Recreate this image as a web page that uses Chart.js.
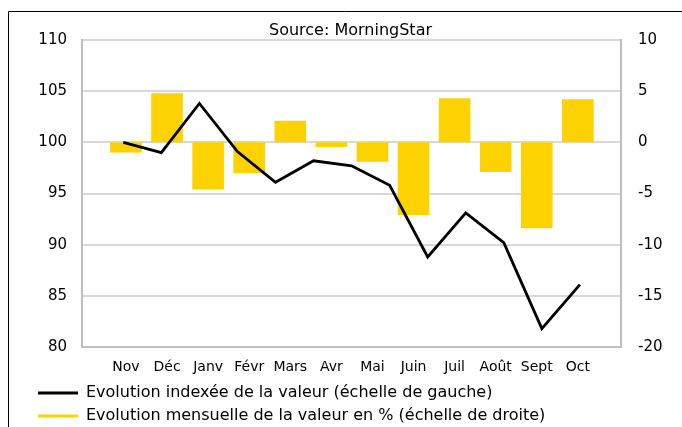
<!DOCTYPE html>
<html>
<head>
<meta charset="utf-8">
<script src="https://cdn.jsdelivr.net/npm/chart.js@4.4.0/dist/chart.umd.min.js"></script>
<style>
    html, body { margin: 0; padding: 0; background: #fff; }
</style>
</head>
<body>
<canvas id="chart-combo" width="682" height="427"></canvas>
<script>
    const months = ['Nov', 'Déc', 'Janv', 'Févr', 'Mars', 'Avr', 'Mai', 'Juin', 'Juil', 'Août', 'Sept', 'Oct'];
    // monthly change in % (right scale)
    const monthlyChange = [-1.0, 4.8, -4.6, -3.0, 2.1, -0.45, -1.9, -7.1, 4.3, -2.9, -8.4, 4.2];
    // indexed level, 13 points (start + end of each month)
    const indexLevel = [100.0, 99.0, 103.8, 99.1, 96.1, 98.2, 97.7, 95.8, 88.8, 93.1, 90.2, 81.8, 86.1];
    const leftTicks = [80, 85, 90, 95, 100, 105, 110];
    const rightTicks = [-20, -15, -10, -5, 0, 5, 10];
    const titleText = 'Source: MorningStar';
    const lineLabel = 'Evolution indexée de la valeur (échelle de gauche)';
    const barLabel = 'Evolution mensuelle de la valeur en % (échelle de droite)';

    Chart.defaults.font.family = 'DejaVu Sans';
    Chart.defaults.color = '#000';

    const framePlugin = {
        id: 'frame',
        beforeDraw(chart) {
            const c = chart.ctx;
            c.save();
            c.fillStyle = '#fff';
            c.fillRect(0, 0, chart.width, chart.height);
            c.strokeStyle = '#000';
            c.lineWidth = 1;
            c.beginPath();
            c.moveTo(8.5, chart.height);
            c.lineTo(8.5, 11.5);
            c.lineTo(chart.width, 11.5);
            c.stroke();
            // title centred over the plot area
            const area = chart.chartArea;
            c.fillStyle = '#000';
            c.font = '16px "DejaVu Sans"';
            c.textAlign = 'center';
            c.textBaseline = 'alphabetic';
            c.fillText(titleText, (area.left + area.right) / 2 - 1, 34.5);
            c.restore();
        }
    };

    const ctx = document.getElementById('chart-combo').getContext('2d');

    new Chart(ctx, {
        type: 'bar',
        data: {
            datasets: [
                {
                    type: 'line',
                    label: lineLabel,
                    data: indexLevel.map((v, i) => ({ x: i, y: v })),
                    xAxisID: 'x2',
                    yAxisID: 'y',
                    borderColor: '#000',
                    backgroundColor: '#000',
                    borderWidth: 2.8,
                    pointRadius: 0,
                    tension: 0,
                    order: 0
                },
                {
                    type: 'bar',
                    label: barLabel,
                    data: monthlyChange.map((v, i) => ({ x: i, y: v })),
                    xAxisID: 'x',
                    yAxisID: 'y1',
                    backgroundColor: 'rgb(252, 210, 0)',
                    borderWidth: 0,
                    grouped: false,
                    barPercentage: 0.77,
                    categoryPercentage: 1,
                    order: 1
                }
            ]
        },
        options: {
            responsive: false,
            animation: false,
            layout: {
                padding: { left: 31, right: 0, top: 40, bottom: 0 }
            },
            plugins: {
                title: { display: false },
                tooltip: { enabled: false },
                legend: {
                    position: 'bottom',
                    align: 'start',
                    maxHeight: 49,
                    labels: {
                        boxWidth: 40,
                        boxHeight: 3,
                        padding: 7,
                        color: '#000',
                        font: { size: 16 },
                        generateLabels(chart) {
                            const items = Chart.defaults.plugins.legend.labels.generateLabels(chart);
                            items.forEach(it => { it.lineWidth = 0; });
                            return items;
                        }
                    }
                }
            },
            scales: {
                x: {
                    type: 'linear',
                    position: 'bottom',
                    offset: false,
                    min: -1.07,
                    max: 12.05,
                    afterBuildTicks: s => { s.ticks = months.map((m, i) => ({ value: i })); },
                    afterFit: s => { s.height = 31; },
                    ticks: {
                        callback: v => months[v],
                        font: { size: 14 },
                        padding: 12,
                        maxRotation: 0,
                        autoSkip: false
                    },
                    grid: { display: false, drawTicks: false, offset: false },
                    border: { display: true, color: '#bfbfbf', width: 2 }
                },
                x2: {
                    type: 'linear',
                    display: false,
                    offset: false,
                    min: -1.085,
                    max: 13.08,
                    grid: { offset: false }
                },
                y: {
                    position: 'left',
                    min: 80,
                    max: 110,
                    afterBuildTicks: s => { s.ticks = leftTicks.map(v => ({ value: v })); },
                    afterFit: s => { s.width = 51; },
                    ticks: { font: { size: 15 }, padding: 15 },
                    grid: { color: '#d9d9d9', lineWidth: 2, drawTicks: false },
                    border: { color: '#bfbfbf', width: 2 }
                },
                y1: {
                    position: 'right',
                    min: -20,
                    max: 10,
                    afterBuildTicks: s => { s.ticks = rightTicks.map(v => ({ value: v })); },
                    afterFit: s => { s.width = 61; },
                    ticks: { font: { size: 15 }, padding: 17 },
                    grid: { display: false, drawTicks: false },
                    border: { color: '#bfbfbf', width: 2 }
                }
            }
        },
        plugins: [framePlugin]
    });
</script>
</body>
</html>
